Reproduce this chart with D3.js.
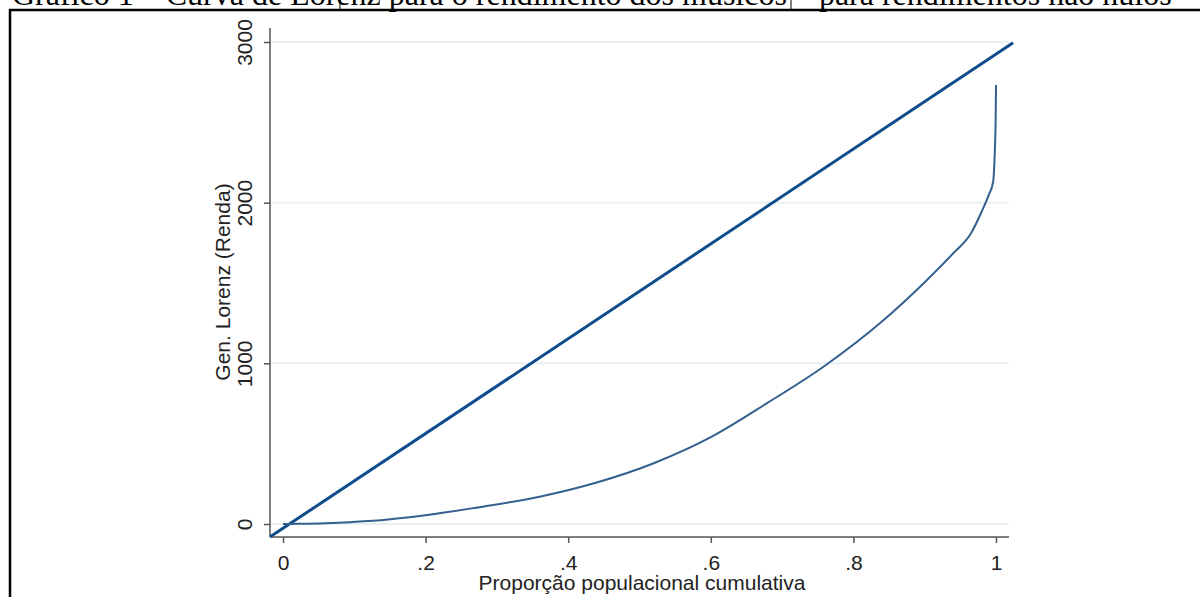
<!DOCTYPE html>
<html>
<head>
<meta charset="utf-8">
<script src="https://cdn.jsdelivr.net/npm/d3@7"></script>
<style>
  body { margin: 0; background: #fff; }
  svg { display: block; }
</style>
</head>
<body>
<script>
const titleText = 'Gráfico 1 – Curva de Lorenz para o rendimento dos músicos – para rendimentos não nulos';
const xTitle = 'Proporção populacional cumulativa';
const yTitle = 'Gen. Lorenz (Renda)';

// cumulative population share and generalized Lorenz value
const popShare = [0, 0.02, 0.06, 0.12, 0.2, 0.28, 0.36, 0.44, 0.52, 0.6, 0.68, 0.76, 0.84, 0.9, 0.94, 0.965, 0.98, 0.99, 0.996, 0.998, 0.9995, 1];
const lorenzValues = [0, 1, 5, 18, 55, 108, 170, 258, 378, 540, 755, 985, 1260, 1505, 1685, 1810, 1945, 2050, 2130, 2280, 2520, 2732];

// equality line, corner to corner
const diagX = [-0.018, 1.024];
const diagY = [-80, 2995];

const xTicks = [0, 0.2, 0.4, 0.6, 0.8, 1];
const xTickLabels = ['0', '.2', '.4', '.6', '.8', '1'];
const yTicks = [0, 1000, 2000, 3000];

const width = 1200;
const height = 597;
const font = 'Liberation Sans, Arial, sans-serif';

const x = d3.scaleLinear().domain([0, 1]).range([283, 996]);
const y = d3.scaleLinear().domain([0, 3000]).range([524, 42]);

const svg = d3.select('body')
    .append('svg')
    .attr('width', width)
    .attr('height', height);

// document title (cut at the top)
svg.append('text')
    .attr('x', 12)
    .attr('y', 5)
    .attr('font-family', 'Liberation Serif, serif')
    .attr('font-size', 32)
    .attr('fill', '#000')
    .text(titleText);

svg.append('line').attr('x1', 340).attr('x2', 340).attr('y1', 0).attr('y2', 10)
    .attr('stroke', '#000').attr('stroke-width', 1);
svg.append('line').attr('x1', 791).attr('x2', 791).attr('y1', 0).attr('y2', 10)
    .attr('stroke', '#000').attr('stroke-width', 1);

// frame
svg.append('line').attr('x1', 9).attr('x2', 1200).attr('y1', 10).attr('y2', 10)
    .attr('stroke', '#000').attr('stroke-width', 2.5);
svg.append('line').attr('x1', 10).attr('x2', 10).attr('y1', 9).attr('y2', 597)
    .attr('stroke', '#000').attr('stroke-width', 2.5);

const plotLeft = 270, plotRight = 1009, plotBottom = 537, plotTop = 28;

// gridlines
svg.append('g')
    .selectAll('line')
    .data(yTicks)
    .enter()
    .append('line')
    .attr('x1', plotLeft)
    .attr('x2', plotRight)
    .attr('y1', (d) => y(d))
    .attr('y2', (d) => y(d))
    .attr('stroke', '#e9f0f2')
    .attr('stroke-width', 2);

// y axis
const yAxis = d3.axisLeft(y)
    .tickValues(yTicks)
    .tickSize(6)
    .tickFormat(d3.format('d'));

const gy = svg.append('g')
    .attr('transform', 'translate(' + plotLeft + ',0)')
    .call(yAxis);
gy.select('.domain').remove();
gy.selectAll('line').attr('stroke', '#555').attr('stroke-width', 1.5);
gy.selectAll('text')
    .attr('font-family', font)
    .attr('font-size', 21)
    .attr('fill', '#222')
    .attr('x', 0)
    .attr('y', 0)
    .attr('dy', 0)
    .attr('text-anchor', 'middle')
    .attr('transform', 'translate(-18,0) rotate(-90)');

svg.append('line')
    .attr('x1', plotLeft).attr('x2', plotLeft)
    .attr('y1', plotTop).attr('y2', plotBottom)
    .attr('stroke', '#555').attr('stroke-width', 1.5);

// x axis
const xAxis = d3.axisBottom(x)
    .tickValues(xTicks)
    .tickSize(6)
    .tickFormat((d, i) => xTickLabels[i]);

const gx = svg.append('g')
    .attr('transform', 'translate(0,' + plotBottom + ')')
    .call(xAxis);
gx.select('.domain').remove();
gx.selectAll('line').attr('stroke', '#555').attr('stroke-width', 1.5);
gx.selectAll('text')
    .attr('font-family', font)
    .attr('font-size', 21)
    .attr('fill', '#222')
    .attr('y', 33)
    .attr('dy', 0);

svg.append('line')
    .attr('x1', plotLeft).attr('x2', plotRight)
    .attr('y1', plotBottom).attr('y2', plotBottom)
    .attr('stroke', '#555').attr('stroke-width', 1.5);

// axis titles
svg.append('text')
    .attr('x', 642)
    .attr('y', 590)
    .attr('text-anchor', 'middle')
    .attr('font-family', font)
    .attr('font-size', 21)
    .attr('fill', '#222')
    .text(xTitle);

svg.append('text')
    .attr('transform', 'translate(230,282) rotate(-90)')
    .attr('text-anchor', 'middle')
    .attr('font-family', font)
    .attr('font-size', 21)
    .attr('fill', '#222')
    .text(yTitle);

// equality line
svg.append('path')
    .datum(diagX.map((d, i) => [d, diagY[i]]))
    .attr('fill', 'none')
    .attr('stroke', '#0e4c8c')
    .attr('stroke-width', 3)
    .attr('d', d3.line().x((d) => x(d[0])).y((d) => y(d[1])));

// generalized Lorenz curve
svg.append('path')
    .datum(popShare.map((d, i) => [d, lorenzValues[i]]))
    .attr('fill', 'none')
    .attr('stroke', '#33608e')
    .attr('stroke-width', 2)
    .attr('d', d3.line().curve(d3.curveMonotoneX).x((d) => x(d[0])).y((d) => y(d[1])));
</script>
</body>
</html>
